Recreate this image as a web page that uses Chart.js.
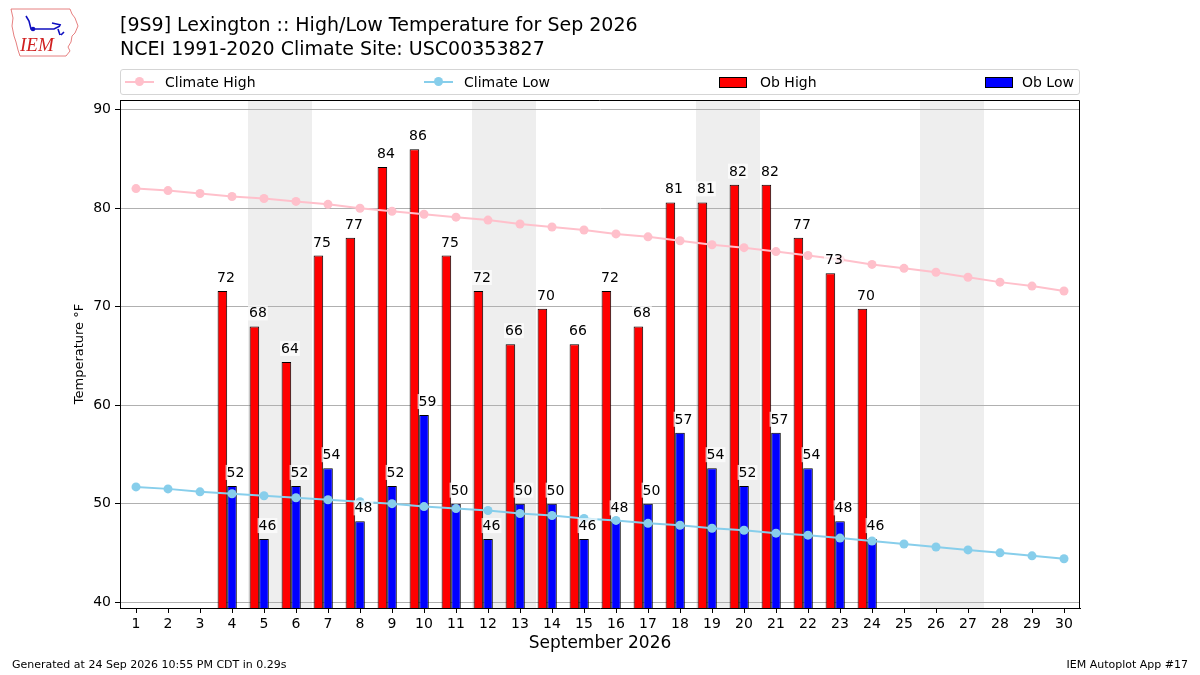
<!DOCTYPE html>
<html>
<head>
<meta charset="utf-8">
<script src="https://cdn.jsdelivr.net/npm/chart.js@4/dist/chart.umd.min.js"></script>
<style>
  body { margin: 0; background: #fff; font-family: 'DejaVu Sans', sans-serif; color: #000; }
  #wrap { position: relative; width: 1200px; height: 675px; overflow: hidden; }
  #chart { position: absolute; left: 0; top: 0; }
  .title { position: absolute; left: 120px; top: 12px; font-size: 19px; line-height: 24px; white-space: nowrap; }
  .legend { position: absolute; left: 120px; top: 69px; width: 960px; height: 26px; box-sizing: border-box;
            border: 1px solid #d5d5d5; border-radius: 3px; background: rgba(255,255,255,0.8); font-size: 14px; }
  .legend .item { position: absolute; top: 0; height: 24px; line-height: 24px; white-space: nowrap; }
  .legend .ln { position: absolute; top: 11px; width: 29px; height: 2px; }
  .legend .dot { position: absolute; top: 7px; width: 9px; height: 9px; border-radius: 50%; }
  .legend .box { position: absolute; top: 7px; width: 26px; height: 9px; border: 1px solid #000; }
  .foot { position: absolute; top: 658px; font-size: 11px; line-height: 14px; white-space: nowrap; }
</style>
</head>
<body>
<div id="wrap">
  <canvas id="chart" width="1200" height="675"></canvas>
  <svg style="position:absolute;left:8px;top:6px" width="74" height="54" viewBox="0 0 74 54">
    <path d="M3 3 L62 3 L64 8 L67 12 L70 20 L67 27 L64 30 L63 36 L60 41 L62 45 L58 50 L12 50 L10 44 L8 36 L6 30 L4 20 L5 12 Z"
          fill="none" stroke="#e06060" stroke-width="0.8"/>
    <path d="M18 10 L21 15 L23 23 L46 23 L52 20 M44 17 L53 19 M50 23 L52 29 M53 29 L56 26" fill="none" stroke="#1010c0" stroke-width="1.6"/>
    <circle cx="25" cy="23" r="2.3" fill="#1010c0"/>
    <text x="12" y="45" font-family="'Liberation Serif', serif" font-style="italic" font-size="19" fill="#d02020">IEM</text>
  </svg>
  <div class="title">[9S9] Lexington :: High/Low Temperature for Sep 2026<br>NCEI 1991-2020 Climate Site: USC00353827</div>
  <div class="legend">
    <div class="item" style="left:4px"><div class="ln" style="left:0;background:#ffc0cb"></div><div class="dot" style="left:10px;background:#ffc0cb"></div><span style="position:absolute;left:40px">Climate High</span></div>
    <div class="item" style="left:303px"><div class="ln" style="left:0;background:#87ceeb"></div><div class="dot" style="left:10px;background:#87ceeb"></div><span style="position:absolute;left:40px">Climate Low</span></div>
    <div class="item" style="left:598px"><div class="box" style="left:0;background:#ff0000"></div><span style="position:absolute;left:41px">Ob High</span></div>
    <div class="item" style="left:864px"><div class="box" style="left:0;background:#0000ff"></div><span style="position:absolute;left:37px">Ob Low</span></div>
  </div>
  <div class="foot" style="left:12px">Generated at 24 Sep 2026 10:55 PM CDT in 0.29s</div>
  <div class="foot" style="right:12px">IEM Autoplot App #17</div>
</div>
<script>
var days = ['1','2','3','4','5','6','7','8','9','10','11','12','13','14','15',
            '16','17','18','19','20','21','22','23','24','25','26','27','28','29','30'];
var weekendDays = ['5','6','12','13','19','20','26','27'];
var yTicks = [40, 50, 60, 70, 80, 90];

var obHigh = [null, null, null, 71.6, 68.0, 64.4, 75.2, 77.0, 84.2, 86.0, 75.2, 71.6, 66.2, 69.8, 66.2,
              71.6, 68.0, 80.6, 80.6, 82.4, 82.4, 77.0, 73.4, 69.8, null, null, null, null, null, null];
var obLow = [null, null, null, 51.8, 46.4, 51.8, 53.6, 48.2, 51.8, 59.0, 50.0, 46.4, 50.0, 50.0, 46.4,
             48.2, 50.0, 57.2, 53.6, 51.8, 57.2, 53.6, 48.2, 46.4, null, null, null, null, null, null];
var climateHigh = [82.0, 81.8, 81.5, 81.2, 81.0, 80.7, 80.4, 80.0, 79.7, 79.4, 79.1, 78.8, 78.4, 78.1, 77.8,
                   77.4, 77.1, 76.7, 76.3, 76.0, 75.6, 75.2, 74.8, 74.3, 73.9, 73.5, 73.0, 72.5, 72.1, 71.6];
var climateLow = [51.7, 51.5, 51.2, 51.0, 50.8, 50.6, 50.4, 50.2, 50.0, 49.7, 49.5, 49.3, 49.0, 48.8, 48.5,
                  48.3, 48.0, 47.8, 47.5, 47.3, 47.0, 46.8, 46.5, 46.2, 45.9, 45.6, 45.3, 45.0, 44.7, 44.4];

Chart.defaults.font.family = "'DejaVu Sans', sans-serif";
Chart.defaults.color = '#000';

// grey bands behind weekend days
var weekendShade = {
    id: 'weekendShade',
    beforeDraw: function(chart) {
        var x = chart.scales.x, area = chart.chartArea, ctx = chart.ctx;
        var step = x.getPixelForValue(1) - x.getPixelForValue(0);
        ctx.save();
        ctx.fillStyle = '#eeeeee';
        weekendDays.forEach(function(d) {
            var px = x.getPixelForValue(days.indexOf(d));
            ctx.fillRect(px - step / 2, area.top, step, area.bottom - area.top);
        });
        ctx.restore();
    }
};

// value labels over the bars
var barLabels = {
    id: 'barLabels',
    afterDatasetsDraw: function(chart) {
        var ctx = chart.ctx;
        ctx.save();
        ctx.font = "14px 'DejaVu Sans'";
        ctx.textAlign = 'center';
        ctx.textBaseline = 'alphabetic';
        [2, 3].forEach(function(di) {
            var meta = chart.getDatasetMeta(di);
            var vals = chart.data.datasets[di].data;
            meta.data.forEach(function(bar, i) {
                if (vals[i] === null) { return; }
                var txt = String(Math.round(vals[i]));
                var w = ctx.measureText(txt).width;
                var cx = bar.x + 3.5, by = bar.y - 9;
                ctx.fillStyle = 'rgba(255,255,255,0.7)';
                ctx.fillRect(cx - w / 2 - 1, by - 12, w + 2, 15);
                ctx.fillStyle = '#000';
                ctx.fillText(txt, cx, by);
            });
        });
        ctx.restore();
    }
};

// close the axes box on top and right
var frame = {
    id: 'frame',
    afterDraw: function(chart) {
        var a = chart.chartArea, ctx = chart.ctx;
        ctx.save();
        ctx.strokeStyle = '#000';
        ctx.lineWidth = 1;
        ctx.beginPath();
        ctx.moveTo(a.left, a.top + 0.5);
        ctx.lineTo(a.right - 0.5, a.top + 0.5);
        ctx.lineTo(a.right - 0.5, a.bottom);
        ctx.stroke();
        ctx.restore();
    }
};

new Chart(document.getElementById('chart').getContext('2d'), {
    type: 'bar',
    data: {
        labels: days,
        datasets: [
            { type: 'line', label: 'Climate High', data: climateHigh, borderColor: '#ffc0cb', backgroundColor: '#ffc0cb',
              borderWidth: 2, pointRadius: 4.5, pointBorderWidth: 0, pointBackgroundColor: '#ffc0cb', order: 0 },
            { type: 'line', label: 'Climate Low', data: climateLow, borderColor: '#87ceeb', backgroundColor: '#87ceeb',
              borderWidth: 2, pointRadius: 4.5, pointBorderWidth: 0, pointBackgroundColor: '#87ceeb', order: 0 },
            { label: 'Ob High', data: obHigh, backgroundColor: '#ff0000', borderColor: '#000', borderWidth: 1,
              categoryPercentage: 0.9, barPercentage: 1.0, order: 1 },
            { label: 'Ob Low', data: obLow, backgroundColor: '#0000ff', borderColor: '#000', borderWidth: 1,
              categoryPercentage: 0.9, barPercentage: 1.0, order: 1 },
            { label: 'spacer', data: days.map(function() { return null; }),
              categoryPercentage: 0.9, barPercentage: 1.0, order: 1 }
        ]
    },
    options: {
        responsive: false,
        animation: false,
        devicePixelRatio: 1,
        layout: { padding: { left: 0, top: 100, right: 120, bottom: 0 } },
        plugins: { legend: { display: false }, tooltip: { enabled: false } },
        scales: {
            x: {
                type: 'category',
                offset: true,
                grid: { offset: false, drawOnChartArea: false, tickColor: '#000', tickLength: 5 },
                border: { color: '#000', width: 1 },
                ticks: { font: { size: 14 }, color: '#000', padding: 3, maxRotation: 0, autoSkip: false },
                title: { display: true, text: 'September 2026', font: { size: 17 }, color: '#000', padding: { top: 0, bottom: 21 } },
                afterFit: function(scale) { scale.height = 67; }
            },
            y: {
                min: 39.4,
                max: 91,
                grid: { color: '#b0b0b0', lineWidth: 1, tickColor: '#000', tickLength: 5 },
                border: { color: '#000', width: 1 },
                ticks: { font: { size: 14 }, color: '#000', padding: 4 },
                afterBuildTicks: function(scale) {
                    scale.ticks = yTicks.map(function(v) { return { value: v }; });
                },
                title: { display: true, text: 'Temperature °F', font: { size: 13 }, color: '#000', padding: { top: 72, bottom: 0 } },
                afterFit: function(scale) { scale.width = 120; }
            }
        }
    },
    plugins: [weekendShade, barLabels, frame]
});
</script>
</body>
</html>
